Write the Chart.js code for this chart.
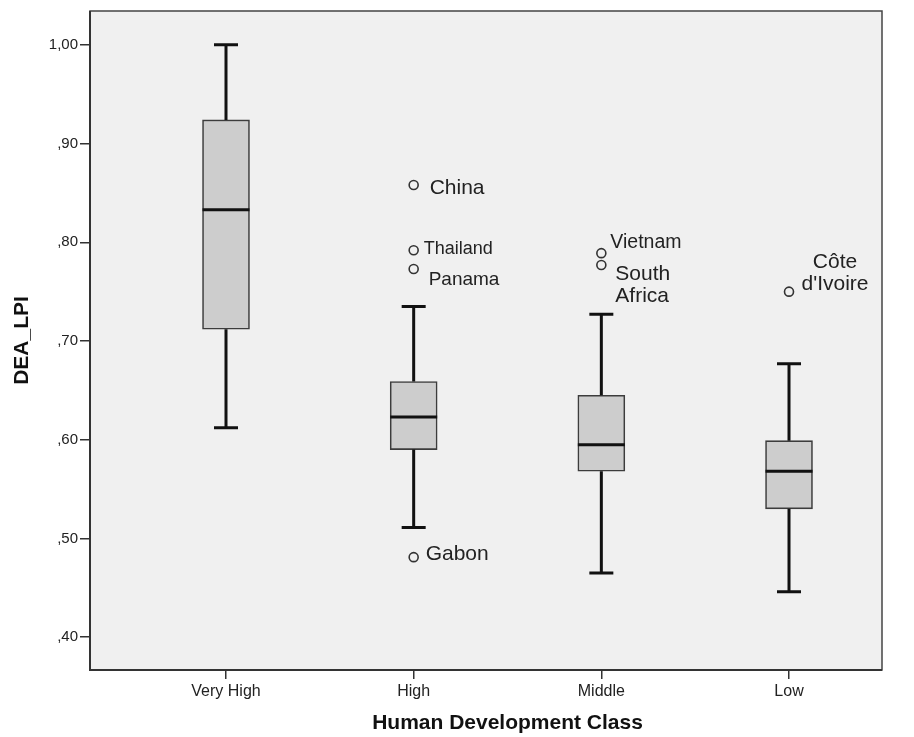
<!DOCTYPE html>
<html>
<head>
<meta charset="utf-8">
<script src="https://cdn.jsdelivr.net/npm/chart.js@4.4.1/dist/chart.umd.min.js"></script>
<style>
  html, body { margin: 0; padding: 0; background: #ffffff; }
  #wrap { width: 914px; height: 737px; }
</style>
</head>
<body>
<div id="wrap"><canvas id="c" width="914" height="737"></canvas></div>
<script>
// ---- data ----
const categories = ['Very High', 'High', 'Middle', 'Low'];
const whiskerLow  = [0.612, 0.511, 0.465, 0.446];
const boxQ1       = [0.712, 0.590, 0.568, 0.530];
const boxMedian   = [0.833, 0.623, 0.595, 0.568];
const boxQ3       = [0.924, 0.659, 0.645, 0.599];
const whiskerHigh = [1.000, 0.735, 0.727, 0.677];

const outlierCategory = [1, 1, 1, 1, 2, 2, 3];
const outlierValue    = [0.858, 0.792, 0.773, 0.481, 0.789, 0.777, 0.750];
const outlierName     = ['China', 'Thailand', 'Panama', 'Gabon', 'Vietnam', 'South\nAfrica', 'Côte\nd\'Ivoire'];

const yTickValues = [0.40, 0.50, 0.60, 0.70, 0.80, 0.90, 1.00];
const yAxisTitle = 'DEA_LPI';
const xAxisTitle = 'Human Development Class';

// ---- label styling (offsets in px from the point, font size, alignment) ----
const labelStyle = [
  { dx: 16,  dy: 8.5,  size: 21, align: 'left' },
  { dx: 10,  dy: 3.5,  size: 18, align: 'left' },
  { dx: 15,  dy: 16.5, size: 19, align: 'left' },
  { dx: 12,  dy: 2.5,  size: 21, align: 'left' },
  { dx: 9,   dy: -5,   size: 19.5, align: 'left' },
  { dx: 14,  dy: 15,   size: 21, align: 'left', lh: 22 },
  { dx: 46,  dy: -24,  size: 21, align: 'center', lh: 22.6 }
];

const FONT = "'Liberation Sans', Arial, sans-serif";

const plotBg = {
  id: 'plotBg',
  beforeDraw(chart) {
    const { ctx, chartArea: a } = chart;
    ctx.save();
    ctx.fillStyle = '#f0f0f0';
    ctx.fillRect(a.left, a.top, a.right - a.left, a.bottom - a.top);
    ctx.restore();
  },
  afterDatasetsDraw(chart) {
    const { ctx, scales: { x, y } } = chart;
    ctx.save();
    ctx.strokeStyle = '#111';
    ctx.lineWidth = 3;
    ctx.lineCap = 'butt';
    const capHalf = 12, boxHalf = 23.5;
    for (let i = 0; i < categories.length; i++) {
      const cx = x.getPixelForValue(i);
      const yLo = y.getPixelForValue(whiskerLow[i]);
      const yQ1 = y.getPixelForValue(boxQ1[i]);
      const yQ3 = y.getPixelForValue(boxQ3[i]);
      const yHi = y.getPixelForValue(whiskerHigh[i]);
      const yMd = y.getPixelForValue(boxMedian[i]);
      ctx.beginPath();
      ctx.moveTo(cx, yQ1); ctx.lineTo(cx, yLo);
      ctx.moveTo(cx, yQ3); ctx.lineTo(cx, yHi);
      ctx.moveTo(cx - capHalf, yLo); ctx.lineTo(cx + capHalf, yLo);
      ctx.moveTo(cx - capHalf, yHi); ctx.lineTo(cx + capHalf, yHi);
      ctx.moveTo(cx - boxHalf, yMd); ctx.lineTo(cx + boxHalf, yMd);
      ctx.stroke();
    }
    // outlier labels
    ctx.fillStyle = '#222';
    ctx.textBaseline = 'alphabetic';
    for (let k = 0; k < outlierName.length; k++) {
      const st = labelStyle[k];
      const px = x.getPixelForValue(outlierCategory[k]);
      const py = y.getPixelForValue(outlierValue[k]);
      ctx.font = st.size + 'px ' + FONT;
      ctx.textAlign = st.align;
      const lines = outlierName[k].split('\n');
      lines.forEach((ln, j) => {
        ctx.fillText(ln, px + st.dx, py + st.dy + j * (st.lh || 0));
      });
    }
    ctx.restore();
  },
  afterDraw(chart) {
    const { ctx, chartArea: a, scales: { x } } = chart;
    ctx.save();
    ctx.strokeStyle = '#444';
    ctx.lineWidth = 1.5;
    ctx.strokeRect(a.left, a.top, a.right - a.left, a.bottom - a.top);
    ctx.strokeStyle = '#333';
    ctx.lineWidth = 2;
    ctx.beginPath();
    ctx.moveTo(a.left, a.top); ctx.lineTo(a.left, a.bottom); ctx.lineTo(a.right, a.bottom);
    ctx.stroke();
    // x axis title centred on the category span
    const cx = (x.getPixelForValue(0) + x.getPixelForValue(categories.length - 1)) / 2;
    ctx.fillStyle = '#111';
    ctx.font = 'bold 21px ' + FONT;
    ctx.textAlign = 'center';
    ctx.textBaseline = 'middle';
    ctx.fillText(xAxisTitle, cx, 723);
    ctx.restore();
  }
};

const ctx = document.getElementById('c').getContext('2d');
new Chart(ctx, {
  type: 'bar',
  data: {
    datasets: [
      {
        type: 'bar',
        data: categories.map((c, i) => ({ x: i, y: [boxQ1[i], boxQ3[i]] })),
        backgroundColor: '#cdcdcd',
        borderColor: '#3c3c3c',
        borderWidth: 1.6,
        borderSkipped: false,
        barThickness: 47,
        order: 2
      },
      {
        type: 'scatter',
        data: outlierCategory.map((c, k) => ({ x: c, y: outlierValue[k] })),
        pointRadius: 4.5,
        pointHoverRadius: 4.5,
        pointBorderWidth: 1.6,
        pointBorderColor: '#333',
        pointBackgroundColor: 'rgba(0,0,0,0)',
        order: 1
      }
    ]
  },
  options: {
    responsive: false,
    animation: false,
    events: [],
    layout: { padding: { top: 7, right: 32, left: 0, bottom: 0 } },
    plugins: { legend: { display: false }, tooltip: { enabled: false } },
    scales: {
      x: {
        type: 'linear',
        offset: false,
        min: -0.7247,
        max: 3.4955,
        afterBuildTicks(scale) { scale.ticks = categories.map((c, i) => ({ value: i })); },
        afterFit(scale) { scale.height = 67; },
        grid: { display: true, offset: false, drawOnChartArea: false, drawTicks: true, tickLength: 9, color: '#333', lineWidth: 1.5 },
        border: { display: false },
        ticks: {
          padding: 3,
          color: '#222',
          font: { family: FONT, size: 16 },
          callback: (v) => categories[v] ?? ''
        }
      },
      y: {
        type: 'linear',
        min: 0.3667,
        max: 1.0343,
        afterBuildTicks(scale) { scale.ticks = yTickValues.map(v => ({ value: v })); },
        afterFit(scale) { scale.width = 90; },
        grid: { display: true, drawOnChartArea: false, drawTicks: true, tickLength: 10, color: '#333', lineWidth: 1.5 },
        border: { display: false },
        title: {
          display: true,
          text: yAxisTitle,
          color: '#111',
          font: { family: FONT, size: 21, weight: 'bold' },
          padding: { top: 10, bottom: 0 }
        },
        ticks: {
          padding: 2,
          color: '#222',
          font: { family: FONT, size: 15 },
          callback: (v) => {
            const s = Number(v).toFixed(2).replace('.', ',');
            return s.startsWith('0') ? s.slice(1) : s;
          }
        }
      }
    }
  },
  plugins: [plotBg]
});
</script>
</body>
</html>
